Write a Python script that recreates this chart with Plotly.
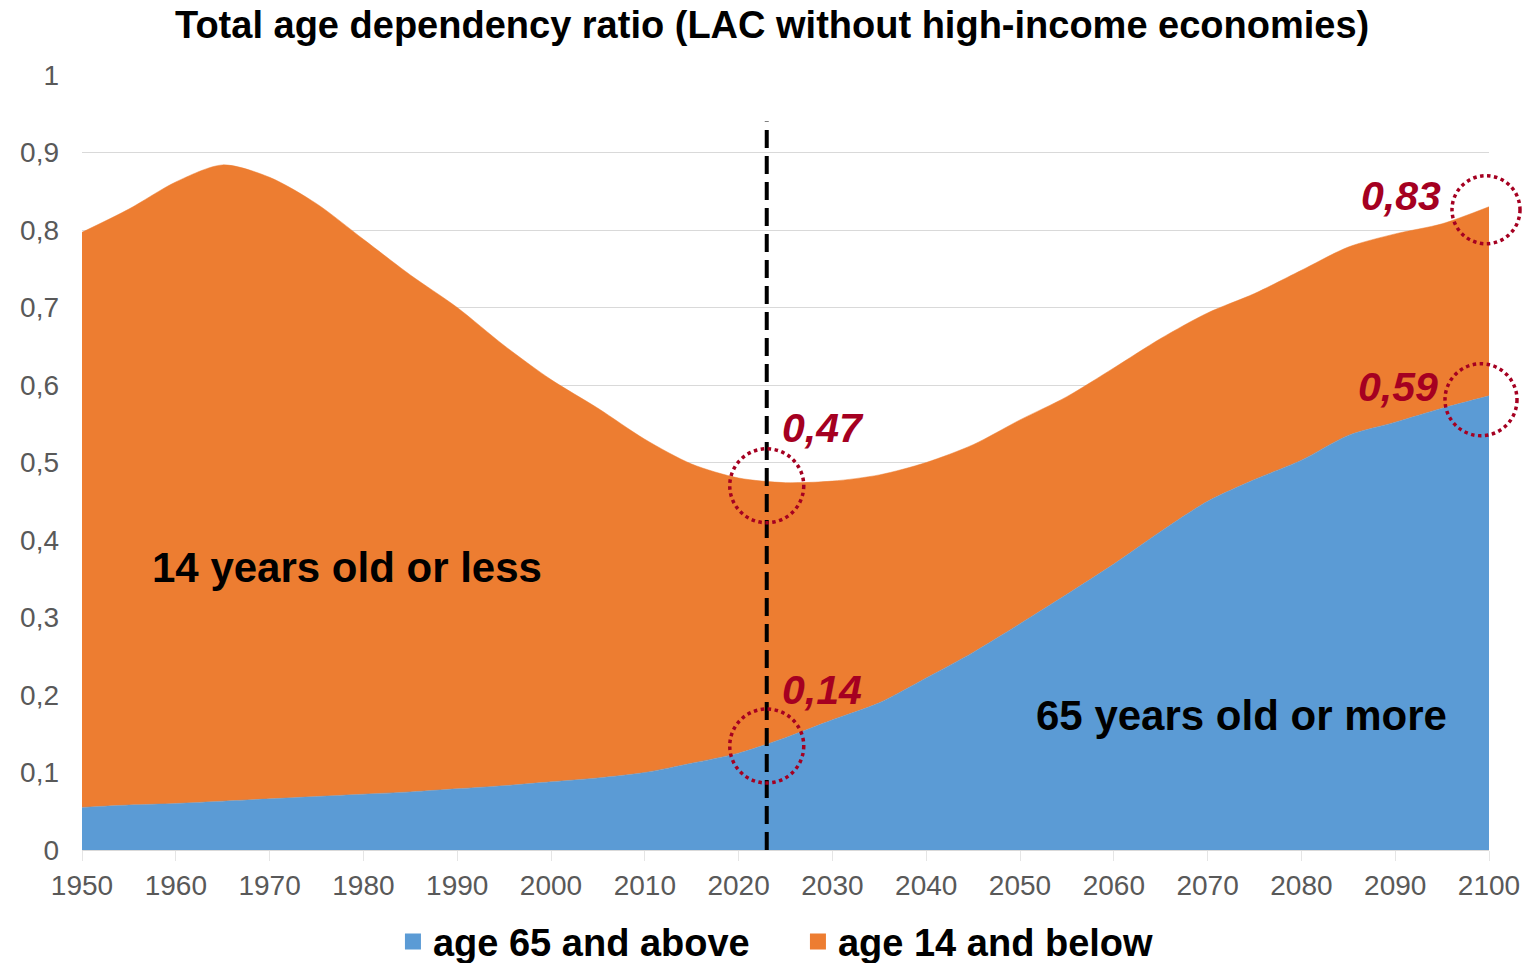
import plotly.graph_objects as go

years = list(range(1950, 2101, 5))
age65 = [0.055, 0.058, 0.060, 0.063, 0.066, 0.069, 0.072, 0.075, 0.079, 0.083,
         0.088, 0.093, 0.100, 0.112, 0.125, 0.145, 0.168, 0.190, 0.222, 0.255,
         0.292, 0.330, 0.369, 0.411, 0.450, 0.478, 0.503, 0.535, 0.552, 0.570, 0.586]
age14 = [0.742, 0.769, 0.802, 0.821, 0.802, 0.765, 0.716, 0.667, 0.621, 0.568,
         0.519, 0.477, 0.430, 0.386, 0.355, 0.329, 0.308, 0.294, 0.278, 0.268,
         0.263, 0.255, 0.253, 0.249, 0.243, 0.240, 0.245, 0.243, 0.243, 0.238, 0.244]

marker_year = 2023
dash_top = 0.94
callout_x = [2023, 2023, 2100, 2100]
callout_y = [0.47, 0.14, 0.83, 0.59]
callout_text = ["0,47", "0,14", "0,83", "0,59"]
ytick_vals = [i / 10 for i in range(11)]
ytick_text = ["0", "0,1", "0,2", "0,3", "0,4", "0,5", "0,6", "0,7", "0,8", "0,9", "1"]
xtick_vals = list(range(1950, 2101, 10))
x_range = [1950, 2100]

BLUE = "#5B9BD5"
ORANGE = "#ED7D31"
RED = "#A50021"
FONT = "Liberation Sans, Arial, sans-serif"

fig = go.Figure()
fig.add_trace(go.Scatter(x=years, y=age65, name="age 65 and above", stackgroup="a",
                         mode="lines", line=dict(width=0.5, color=BLUE, shape="spline", smoothing=0.8),
                         fillcolor=BLUE, showlegend=False))
fig.add_trace(go.Scatter(x=years, y=age14, name="age 14 and below", stackgroup="a",
                         mode="lines", line=dict(width=0.5, color=ORANGE, shape="spline", smoothing=0.8),
                         fillcolor=ORANGE, showlegend=False))
# legend entries (square swatches)
for nm, col in [("age 65 and above", BLUE), ("age 14 and below", ORANGE)]:
    fig.add_trace(go.Scatter(x=[None], y=[None], mode="markers", name=f"<b>{nm}</b>",
                             marker=dict(symbol="square", size=20, color=col)))

# dashed vertical marker
fig.add_shape(type="line", x0=marker_year, x1=marker_year, y0=0, y1=dash_top,
              xref="x", yref="y", line=dict(color="black", width=4, dash="18px,8px"))

# dotted circles and labels
circle_off = [(0, 0, 37), (0, -4.5, 37), (-3, -3, 34), (-8, -7, 36)]
label_shift = [(13, 58, "left"), (13, 52, "left"), (-46, 11, "right"), (-49, 6, "right")]
for (cx, cy, txt), (dx, dy, r), (sx, sy, anc) in zip(zip(callout_x, callout_y, callout_text),
                                                      circle_off, label_shift):
    px = (cx - x_range[0]) / (x_range[1] - x_range[0])
    fig.add_shape(type="circle", xref="paper", yref="paper", xsizemode="pixel", ysizemode="pixel",
                  xanchor=px, yanchor=cy, x0=dx - r, x1=dx + r, y0=dy - r, y1=dy + r,
                  line=dict(color=RED, width=3.5, dash="dot"))
    fig.add_annotation(x=cx, y=cy, text=f"<b><i>{txt}</i></b>", showarrow=False,
                       xanchor=anc, yanchor="middle", xshift=sx, yshift=sy,
                       font=dict(family=FONT, size=41, color=RED))

fig.add_annotation(x=1978.3, y=0.364, text="<b>14 years old or less</b>", showarrow=False,
                   font=dict(family=FONT, size=42, color="black"))
fig.add_annotation(x=2073.6, y=0.174, text="<b>65 years old or more</b>", showarrow=False,
                   font=dict(family=FONT, size=42, color="black"))

fig.update_layout(
    width=1526, height=963,
    margin=dict(l=82, r=37, t=75, b=113, autoexpand=False),
    paper_bgcolor="white", plot_bgcolor="white",
    title=dict(text="<b>Total age dependency ratio (LAC without high-income economies)</b>",
               x=0.506, xref="container", xanchor="center", y=0.974, yanchor="middle",
               font=dict(family=FONT, size=38, color="black")),
    legend=dict(orientation="h", x=0.2575, xanchor="left", xref="container",
                y=0.022, yanchor="middle", yref="container",
                font=dict(family=FONT, size=38, color="black"), traceorder="normal",
                itemsizing="trace", itemwidth=30, entrywidth=360, entrywidthmode="pixels"),
    font=dict(family=FONT),
)
fig.update_xaxes(range=x_range, tickvals=xtick_vals, showgrid=False, automargin=False,
                 ticks="outside", ticklen=10, tickcolor="#E5E5E5",
                 showline=True, linecolor="#D9D9D9", linewidth=1,
                 tickfont=dict(family=FONT, size=28, color="#595959"), zeroline=False)
fig.update_yaxes(range=[0, 1], tickvals=ytick_vals, ticktext=ytick_text, automargin=False,
                 showgrid=True, gridcolor="#D9D9D9", gridwidth=1, zeroline=False,
                 ticks="", ticklabelstandoff=22,
                 tickfont=dict(family=FONT, size=28, color="#595959"))

fig.write_html("out.html")
